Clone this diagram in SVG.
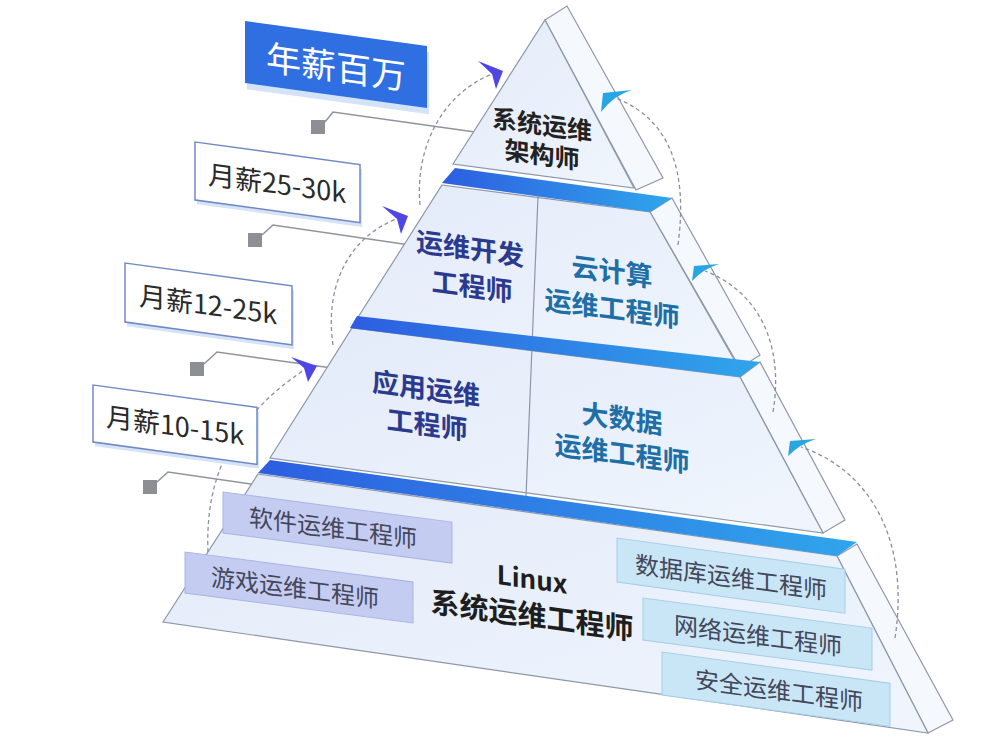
<svg xmlns="http://www.w3.org/2000/svg" width="986" height="746" viewBox="0 0 986 746">
<defs>
<linearGradient id="band" x1="0" y1="0" x2="1" y2="0">
<stop offset="0" stop-color="#2d5ee0"/>
<stop offset="1" stop-color="#30a5eb"/>
</linearGradient>
<linearGradient id="face" x1="0" y1="0" x2="1" y2="1">
<stop offset="0" stop-color="#e3ebf9"/>
<stop offset="1" stop-color="#f0f5fd"/>
</linearGradient>
<style>
.face{fill:url(#face);stroke:#8d97a8;stroke-width:1.2}
.strip{fill:#f5f8fd;stroke:#8d97a8;stroke-width:1.2}
.band{fill:url(#band)}
.lead{fill:none;stroke:#8f949c;stroke-width:1.5}
.sq{fill:#8c8f94}
.dash{fill:none;stroke:#8a909a;stroke-width:1.3;stroke-dasharray:4 3}
.pa{fill:#4f46e5}
.ca{fill:#27a6e2}
.lbl{fill:#ffffff;stroke:#7089c6;stroke-width:1.5}
.lbls{fill:#d6e2f6}
.lt{font-family:"Noto Sans CJK SC","Noto Sans",sans-serif;font-size:27px;fill:#2a2a2a;text-anchor:middle;dominant-baseline:central}
.sb1{fill:#c5ccf2;stroke:#aab4e4;stroke-width:1}
.sb2{fill:#c9e6f7;stroke:#a6cde6;stroke-width:1}
.st{font-family:"Noto Sans CJK SC","Noto Sans",sans-serif;font-size:24px;fill:#44475a;text-anchor:middle;dominant-baseline:central}
.pt{font-family:"Noto Sans CJK SC","Noto Sans",sans-serif;font-weight:700;text-anchor:middle;dominant-baseline:central}
</style>
</defs>
<rect width="986" height="746" fill="#ffffff"/>

<g id="leaders">
<rect class="sq" x="311" y="120" width="14" height="14"/>
<polyline class="lead" points="325,122 333,112 482,133"/>
<rect class="sq" x="248" y="233" width="14" height="14"/>
<polyline class="lead" points="262,235 273,225 410,245"/>
<rect class="sq" x="190" y="362" width="14" height="14"/>
<polyline class="lead" points="204,364 217,352 332,368"/>
<rect class="sq" x="143" y="480" width="14" height="14"/>
<polyline class="lead" points="157,482 168,472 258,485"/>
</g>

<g id="pyramid">
<polygon class="strip" points="837,556 857,544 953,720 928,733"/>
<polygon class="face" points="258,474 837,556 928,733 163,622"/>
<polygon class="strip" points="740,377 760,362 845,520 823,533"/>
<polygon class="face" points="352,328 740,377 823,533 270,458"/>
<polygon class="strip" points="650,212 672,198 760,355 740,368"/>
<polygon class="face" points="442,185 650,212 740,370 355,322"/>
<polygon class="strip" points="545,20 567,6 663,178 636,190"/>
<polygon class="face" points="545,20 634,188 453,164"/>
<line x1="538" y1="196" x2="526" y2="497" stroke="#8d97a8" stroke-width="1.2"/>
<polygon class="band" points="455,168 672,198 650,212 442,183"/>
<polygon class="band" points="357,316 760,362 740,377 350,328"/>
<polygon class="band" points="270,460 857,542 837,556 258,473"/>
</g>

<g id="connectors">
<path class="dash" d="M208,552 C205,480 230,420 304,370"/>
<path class="dash" d="M333,345 C325,290 345,240 396,219"/>
<path class="dash" d="M420,205 C415,150 440,95 492,74"/>
<path class="dash" d="M678,245 C688,170 670,120 616,98"/>
<path class="dash" d="M773,412 C785,340 755,290 705,271"/>
<path class="dash" d="M895,638 C910,540 870,470 801,447"/>
<polygon class="pa" points="291,357 317,366 308,382 304,368"/>
<polygon class="pa" points="382,206 408,216 401,234 397,219"/>
<polygon class="pa" points="478,61 503,71 496,89 492,74"/>
<path class="ca" d="M603,93 L632,90 Q614,95 601,112 Z"/>
<path class="ca" d="M694,266 L719,264 Q703,269 692,281 Z"/>
<path class="ca" d="M790,441 L816,439 Q800,444 788,456 Z"/>
</g>

<g id="salary-top" transform="translate(245,21) skewY(7.8)">
<rect x="2" y="6" width="182" height="62" fill="#d4e3f8"/>
<rect x="0" y="0" width="182" height="62" fill="#2f6fe2"/>
<text x="91" y="31" class="lt" style="font-size:35px;fill:#ffffff">年薪百万</text>
</g>
<g id="salary-25-30" transform="translate(195,142) skewY(7.8)">
<rect class="lbls" x="2" y="4" width="165" height="58"/>
<rect class="lbl" x="0" y="0" width="165" height="58"/>
<text x="82" y="29" class="lt">月薪25-30k</text>
</g>
<g id="salary-12-25" transform="translate(125,263) skewY(7.8)">
<rect class="lbls" x="2" y="4" width="167" height="59"/>
<rect class="lbl" x="0" y="0" width="167" height="59"/>
<text x="83" y="29" class="lt">月薪12-25k</text>
</g>
<g id="salary-10-15" transform="translate(93,385) skewY(7.8)">
<rect class="lbls" x="2" y="4" width="164" height="57"/>
<rect class="lbl" x="0" y="0" width="164" height="57"/>
<text x="82" y="28" class="lt">月薪10-15k</text>
</g>

<g id="software" transform="translate(223,492) skewY(7.5)">
<rect class="sb1" x="0" y="0" width="229" height="41"/>
<text x="110" y="20" class="st">软件运维工程师</text>
</g>
<g id="game" transform="translate(185,552) skewY(7.5)">
<rect class="sb1" x="0" y="0" width="228" height="41"/>
<text x="110" y="20" class="st">游戏运维工程师</text>
</g>
<g id="database" transform="translate(617,538) skewY(7.8)">
<rect class="sb2" x="0" y="0" width="228" height="44"/>
<text x="114" y="22" class="st">数据库运维工程师</text>
</g>
<g id="network" transform="translate(643,598) skewY(7.5)">
<rect class="sb2" x="0" y="0" width="229" height="42"/>
<text x="115" y="21" class="st">网络运维工程师</text>
</g>
<g id="security" transform="translate(662,652) skewY(7.8)">
<rect class="sb2" x="0" y="0" width="228" height="43"/>
<text x="117" y="21" class="st">安全运维工程师</text>
</g>

<g id="architect">
<text class="pt" transform="translate(542,123) skewY(7.8)" style="font-size:25px;fill:#222">系统运维</text>
<text class="pt" transform="translate(542,153) skewY(7.8)" style="font-size:25px;fill:#222">架构师</text>
</g>
<g id="devops">
<text class="pt" transform="translate(470,247) skewY(7.8)" style="font-size:27px;fill:#2b3a8e">运维开发</text>
<text class="pt" transform="translate(472,285) skewY(7.8)" style="font-size:27px;fill:#2b3a8e">工程师</text>
</g>
<g id="cloud">
<text class="pt" transform="translate(612,270) skewY(7.8)" style="font-size:27px;fill:#206ea6">云计算</text>
<text class="pt" transform="translate(612,307) skewY(7.8)" style="font-size:27px;fill:#206ea6">运维工程师</text>
</g>
<g id="app">
<text class="pt" transform="translate(426,387) skewY(7.8)" style="font-size:27px;fill:#2b3a8e">应用运维</text>
<text class="pt" transform="translate(427,423) skewY(7.8)" style="font-size:27px;fill:#2b3a8e">工程师</text>
</g>
<g id="bigdata">
<text class="pt" transform="translate(622,417) skewY(7.8)" style="font-size:27px;fill:#206ea6">大数据</text>
<text class="pt" transform="translate(622,452) skewY(7.8)" style="font-size:27px;fill:#206ea6">运维工程师</text>
</g>
<g id="linux">
<text class="pt" transform="translate(532,578) skewY(7.8)" style="font-size:26px;fill:#1e1e1e">Linux</text>
<text class="pt" transform="translate(532,613) skewY(7.8)" style="font-size:29px;fill:#1e1e1e">系统运维工程师</text>
</g>
</svg>
